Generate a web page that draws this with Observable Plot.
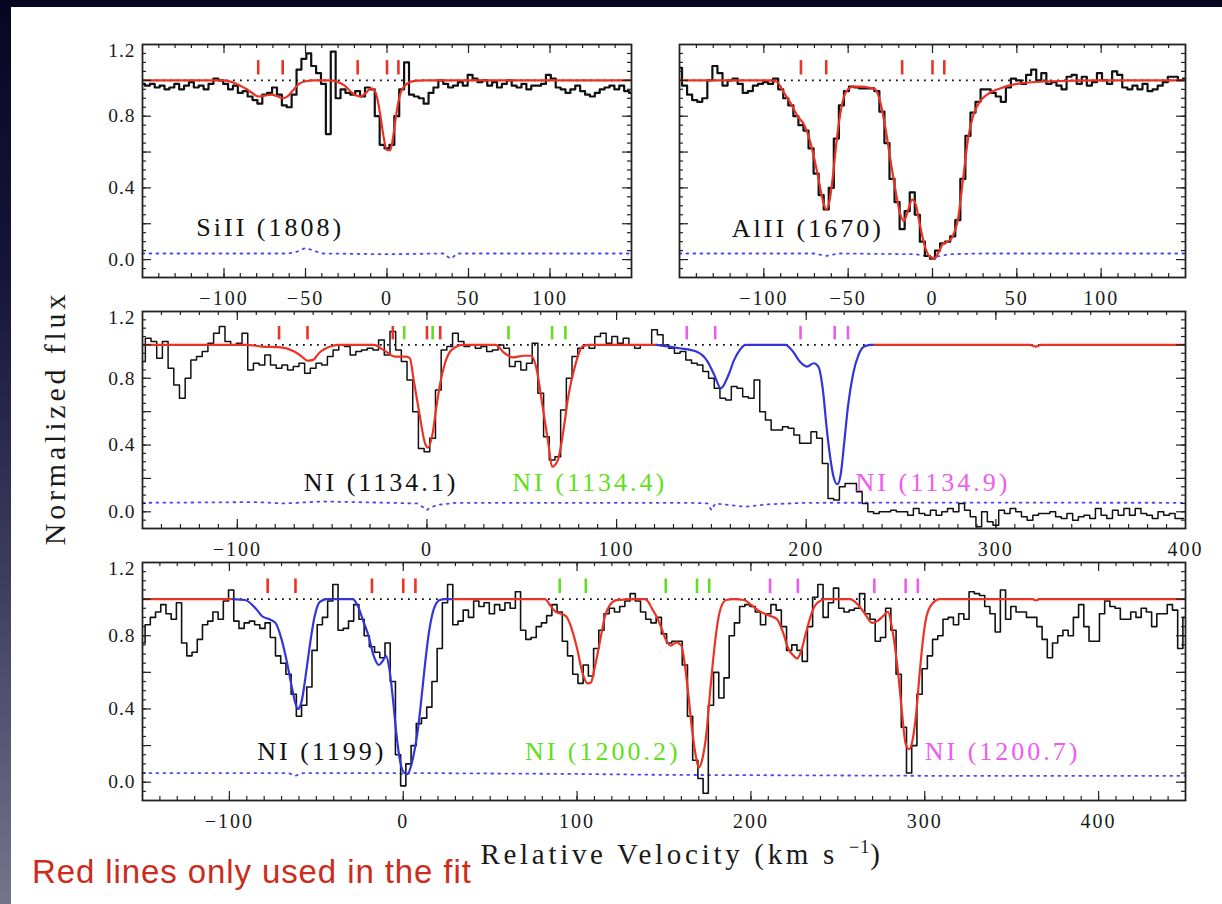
<!DOCTYPE html>
<html>
<head>
<meta charset="utf-8">
<title>Normalized flux versus relative velocity</title>
<script src="https://cdn.jsdelivr.net/npm/d3@7"></script>
<script src="https://cdn.jsdelivr.net/npm/@observablehq/plot@0.6"></script>
<style>
  html, body { margin: 0; padding: 0; background: #070722; }
  #page { position: relative; width: 1222px; height: 904px; overflow: hidden;
    background: linear-gradient(to bottom, #070722 0%, #15153b 30%, #3e3e60 65%, #74748c 100%); }
  #sheet { position: absolute; left: 11px; top: 7px; width: 1211px; height: 897px; background: #fff; }
  #page svg { position: absolute; overflow: visible; }
  #page svg g[font-size="20"] { letter-spacing: 2px; }
  #page svg g[font-size="19.5"] { letter-spacing: 1px; }
  #page svg g[font-size="26"] { letter-spacing: 3px; }
  .ytitle { position: absolute; left: 55px; top: 418px; transform: translate(-50%, -50%) rotate(-90deg);
    white-space: nowrap; font-family: "Liberation Serif"; font-size: 30px; letter-spacing: 3.8px; color: #1a1a1a; line-height: 1; }
  .xtitle { position: absolute; left: 682px; top: 840px; transform: translateX(-50%);
    white-space: nowrap; font-family: "Liberation Serif"; font-size: 29px; letter-spacing: 3.7px; color: #1a1a1a; line-height: 1; }
  .xtitle sup { font-size: 18px; position: relative; top: -11px; vertical-align: baseline; letter-spacing: 1px; }
  .note { position: absolute; left: 32px; top: 855px; font-family: "Liberation Sans"; font-size: 33px;
    letter-spacing: 0.9px; color: #cb2c1c; line-height: 1; white-space: nowrap; }
</style>
</head>
<body>
<div id="page">
  <div id="sheet"></div>
  <div class="ytitle">Normalized flux</div>
  <div class="xtitle">Relative Velocity (km s <sup>−1</sup>)</div>
  <div class="note">Red lines only used in the fit</div>
</div>
<script>
// ---- colours ----
const RED = "#ec3224", BLUE = "#3434dc", GREEN = "#62de20", MAGENTA = "#ee5cee";

// ---- velocity grids of the binned spectra (km/s) ----
const topGrid = d3.range(-150, 151, 3);
const middleGrid = d3.range(-150, 400, 3);
const bottomGrid = d3.range(-150, 451, 3);

// ---- Si II 1808 ----
const siFlux = [
  0.98,0.97,0.98,0.96,0.97,0.95,0.96,0.98,0.95,0.97,
  0.99,0.96,0.97,0.95,0.98,1.01,1.00,0.98,0.95,0.97,
  0.93,0.94,0.91,0.89,0.87,0.92,0.93,0.96,0.92,0.86,
  0.85,0.92,1.06,1.12,1.15,1.08,1.04,0.98,0.70,1.16,
  0.90,0.95,0.93,0.92,0.94,0.91,0.96,0.95,0.80,0.64,
  0.62,0.64,0.80,0.95,1.10,0.92,0.91,0.90,0.87,0.93,
  0.96,1.00,0.98,0.96,0.97,0.99,0.97,1.03,1.01,0.99,
  1.00,0.97,0.99,0.96,0.98,1.00,0.97,0.96,0.98,0.95,
  0.97,0.97,0.98,1.03,1.01,0.96,0.95,0.93,0.95,0.97,
  0.94,0.92,0.91,0.93,0.95,0.96,0.97,0.95,0.97,0.94,
  0.93
];
const siFitV = [-150,-100,-95,-90,-86,-82,-79,-75,-71,-67,-64,-61,-58,-54,-50,-45,-35,-30,-26,-22,-19,-16,-13,-10,-8,-6,-4,-2,0,2,4,6,8,10,13,17,22,150];
const siFitF = [1,1,0.99,0.97,0.95,0.925,0.91,0.915,0.92,0.91,0.90,0.91,0.94,0.98,0.995,1,1,0.99,0.97,0.935,0.915,0.91,0.93,0.955,0.95,0.90,0.80,0.68,0.61,0.61,0.70,0.83,0.92,0.96,0.985,0.997,1,1];
const siErrV = [-150,-60,-55,-50,-45,-40,0,35,38,39,40,43,150];
const siErrF = [0.034,0.034,0.045,0.065,0.05,0.034,0.03,0.034,0.01,0.005,0.01,0.034,0.034];
const siComps = [-79,-64,-18,0,7];

// ---- Al II 1670 ----
const alFlux = [
  1.07,0.97,0.92,0.89,0.88,0.90,1.00,1.08,1.04,0.97,
  1.00,1.01,0.98,0.93,0.94,0.97,0.98,0.99,0.98,1.01,
  0.95,0.90,0.86,0.80,0.75,0.72,0.62,0.48,0.36,0.28,
  0.40,0.675,0.86,0.94,0.965,0.96,0.955,0.955,0.955,0.94,
  0.825,0.65,0.45,0.32,0.17,0.27,0.375,0.25,0.10,0.02,
  0.005,0.05,0.09,0.10,0.13,0.22,0.45,0.69,0.82,0.88,
  0.95,0.95,0.93,0.91,0.88,0.96,1.01,1.00,0.98,1.03,
  1.06,1.00,1.04,0.98,0.99,0.97,0.95,1.02,1.03,0.98,
  1.02,0.97,0.99,1.04,1.00,0.98,1.05,1.03,0.96,0.95,
  0.97,0.95,0.98,0.94,0.95,0.97,0.99,1.02,1.02,1.00,
  1.01
];
const alFitV = [-150,-95,-92,-88,-84,-80,-76,-72,-68,-65,-63,-61,-59,-57,-54,-51,-47,-42,-38,-34,-31,-28,-25,-22,-19,-17,-15,-12,-10,-8,-5,-2,1,3,6,9,12,15,18,21,24,28,33,40,50,70,100,150];
const alFitF = [1,1,0.99,0.93,0.87,0.80,0.75,0.64,0.47,0.33,0.28,0.33,0.47,0.65,0.85,0.94,0.965,0.965,0.96,0.95,0.88,0.74,0.56,0.39,0.25,0.215,0.26,0.335,0.31,0.22,0.09,0.02,0.005,0.03,0.085,0.10,0.13,0.22,0.44,0.67,0.80,0.88,0.925,0.955,0.98,0.995,1,1];
const alErrV = [-150,-70,-63,-56,-10,0,10,30,150];
const alErrF = [0.034,0.034,0.02,0.034,0.03,0.012,0.03,0.034,0.034];
const alComps = [-78,-63,-18,0,7];

// ---- N I 1134 triplet ----
const n1134Flux = [
  0.90,1.04,1.02,0.92,1.02,0.86,0.76,0.68,0.80,0.91,
  0.93,0.96,1.01,1.07,1.11,1.02,1.00,1.01,1.07,0.85,
  0.89,0.88,0.94,0.88,0.86,0.88,0.85,0.87,0.89,0.83,
  0.86,0.89,0.88,0.93,0.97,1.00,0.99,0.94,0.96,0.97,
  0.98,0.97,1.03,0.94,1.08,0.97,0.90,0.79,0.60,0.38,
  0.36,0.44,0.73,0.97,0.99,1.07,1.02,0.99,1.00,0.98,
  0.99,0.96,0.97,1.00,0.98,0.87,0.90,0.85,0.89,1.01,
  0.71,0.45,0.31,0.33,0.61,0.80,0.93,0.98,1.00,0.98,
  1.05,1.07,1.01,1.05,1.01,1.04,1.00,0.98,1.00,1.00,
  1.09,1.06,1.00,0.98,0.95,0.96,0.91,0.89,0.88,0.84,
  0.80,0.74,0.68,0.67,0.75,0.74,0.69,0.68,0.79,0.60,
  0.55,0.49,0.49,0.51,0.50,0.46,0.41,0.41,0.48,0.44,
  0.29,0.08,0.07,0.15,0.17,0.17,0.12,0.05,0.00,-0.01,
  0.00,0.00,0.01,0.00,0.00,-0.02,0.02,-0.01,-0.02,0.01,
  -0.02,0.00,0.02,0.00,0.05,0.01,-0.03,-0.09,0.00,-0.06,
  -0.08,0.01,-0.01,0.02,0.00,-0.03,-0.05,-0.02,-0.01,-0.01,
  0.00,-0.03,-0.04,-0.01,-0.05,-0.03,-0.02,-0.04,0.02,-0.02,
  -0.04,0.01,-0.02,0.02,-0.02,0.02,-0.01,-0.02,-0.04,0.00,
  -0.02,-0.01,-0.04,-0.04
];
const n1134FitAV = [-150,-95,-87,-77,-70,-66,-63,-60,-57,-51,-47,-28,-23,-17,-11,-9,-7,-4,-1,0.5,3,5,7,9.5,13,19,36,41,45,51,55,57.5,61,64,66,69,72,74.5,78,82,85,121];
const n1134FitAF = [1,1,0.99,0.985,0.96,0.93,0.905,0.91,0.95,0.99,1,1,0.97,0.93,0.93,0.92,0.79,0.59,0.41,0.385,0.47,0.63,0.77,0.89,0.97,1,1,0.95,0.925,0.935,0.935,0.87,0.63,0.41,0.27,0.31,0.49,0.69,0.87,0.99,1,1];
const n1134FitBV = [121,133,142,148,151.5,155,159,162,165,168,189,193,196.6,200.4,204,206.4,209,210.7,212.6,214.5,216.4,218.2,220,222,224.8,227.6,230.5,234,236];
const n1134FitBF = [1,0.98,0.96,0.90,0.82,0.74,0.82,0.91,0.97,1,1,0.96,0.90,0.87,0.89,0.87,0.71,0.51,0.33,0.205,0.165,0.225,0.41,0.63,0.83,0.94,0.99,1,1];
const n1134FitCV = [236,318,321,324,400];
const n1134FitCF = [1,1,0.99,1,1];
const n1134ErrV = [-150,-90,-75,-55,-20,-5,-1,0,1,5,15,140,148,150,152,160,168,180,200,280,400];
const n1134ErrF = [0.054,0.058,0.05,0.062,0.054,0.05,0.02,0.01,0.02,0.04,0.054,0.054,0.05,0.01,0.05,0.04,0.03,0.045,0.054,0.055,0.054];
const n1134RedComps = [-78,-63,-18,0,7];
const n1134GreenComps = [-12,3,43,66,73];
const n1134MagentaComps = [137,152,197,215,222];

// ---- N I 1199/1200 triplet ----
const n1200Flux = [
  0.76,0.86,0.90,0.93,0.97,0.92,0.89,0.98,0.76,0.69,
  0.71,0.78,0.86,0.88,0.93,0.89,0.99,1.05,0.88,0.84,
  0.87,0.88,0.86,0.84,0.87,0.79,0.69,0.65,0.59,0.48,
  0.36,0.42,0.52,0.72,0.86,0.90,0.99,1.08,0.83,0.84,
  0.88,0.97,0.89,0.80,0.74,0.71,0.68,0.76,0.55,0.15,
  -0.02,0.10,0.20,0.32,0.35,0.41,0.55,0.73,0.98,1.08,
  0.86,0.88,0.94,0.90,0.99,0.96,0.98,0.92,0.97,0.94,
  0.98,0.95,1.04,0.83,0.78,0.79,0.85,0.87,0.91,0.97,
  0.93,0.77,0.69,0.59,0.54,0.64,0.58,0.73,0.83,0.92,
  0.95,0.93,0.96,0.99,1.03,0.99,0.93,0.89,0.87,0.90,
  0.81,0.76,0.77,0.77,0.64,0.36,0.12,0.02,-0.06,0.42,
  0.60,0.46,0.57,0.80,0.87,0.96,0.97,0.96,0.93,0.86,
  0.92,0.97,0.94,0.85,0.72,0.75,0.72,0.66,0.85,1.01,
  1.08,0.90,0.98,1.06,0.95,0.93,0.94,0.95,1.03,0.92,
  0.89,0.77,0.79,0.95,0.83,0.59,0.30,0.05,0.20,0.48,
  0.62,0.69,0.78,0.80,0.89,0.90,0.86,0.92,0.89,1.04,
  1.03,1.02,0.96,0.92,0.82,1.05,0.89,0.96,0.93,0.93,
  0.90,0.90,0.85,0.78,0.68,0.76,0.80,0.83,0.80,0.90,
  0.97,0.85,0.77,0.77,0.92,0.99,0.96,0.95,0.89,0.89,
  0.93,0.90,0.95,0.93,0.85,0.92,0.92,0.97,0.94,0.73,
  0.90
];
const n1200FitAV = [-150,-98];
const n1200FitAF = [1,1];
const n1200FitBV = [-98,-91,-85,-81,-77,-73.5,-70,-67,-64,-62,-60.5,-58.5,-56,-54,-51,-48,-44,-29,-26,-23,-20,-17,-14,-12,-10,-8,-6,-4,-2,0.4,2.5,4.5,6.6,8.6,10.7,12.7,14.8,16.8,19,21,24,29];
const n1200FitBF = [1,0.995,0.95,0.905,0.89,0.87,0.78,0.66,0.515,0.43,0.40,0.44,0.59,0.73,0.905,0.985,1,1,0.96,0.88,0.80,0.69,0.64,0.66,0.69,0.62,0.46,0.27,0.124,0.053,0.044,0.09,0.18,0.30,0.48,0.66,0.82,0.92,0.977,0.995,1,1];
const n1200FitCV = [29,81.5,84.6,87.7,90.8,93.8,97,100,103,106,108,110,113,116,119,122.6,135,139,141,143,146,149,151,154,157,160,162,164,166,168,170,172,174.4,176.4,178.5,180.5,182.6,185.7,190,196,200,204,208,212,215,218.4,221.5,224.6,226.6,228.7,231.8,234.8,238,243,257,261.5,265.6,269.7,272.7,275.8,278.9,281,283,285,287,289,291,293,295,297,299,301,304.5,308.6,362,364,366,450];
const n1200FitCF = [1,1,0.965,0.93,0.92,0.905,0.835,0.73,0.60,0.54,0.545,0.62,0.76,0.905,0.97,0.995,1,1,0.985,0.95,0.90,0.83,0.78,0.746,0.764,0.746,0.64,0.48,0.30,0.16,0.08,0.124,0.266,0.48,0.69,0.85,0.95,0.995,1,0.995,0.97,0.94,0.92,0.905,0.89,0.82,0.73,0.69,0.675,0.71,0.82,0.92,0.977,1,1,0.97,0.92,0.87,0.88,0.905,0.93,0.85,0.73,0.57,0.37,0.21,0.18,0.23,0.37,0.586,0.78,0.905,0.977,1,1,0.993,1,1];
const n1200ErrV = [-150,-66,-62,-58,-5,0,5,100,150,300,450];
const n1200ErrF = [0.05,0.05,0.035,0.05,0.05,0.045,0.05,0.045,0.04,0.035,0.035];
const n1200RedComps = [-78,-62,-18,0,7];
const n1200GreenComps = [90,105,151,169,176];
const n1200MagentaComps = [211,227,271,289,296];

// ---- axis tick labels ----
const narrowTickLabels = [-100,-50,0,50,100];
const wideTickLabels = [-100,0,100,200,300,400];
const fluxTickLabels = [0, 0.4, 0.8, 1.2];
const Y_DOMAIN = [-0.1, 1.2];
const SERIF = "Liberation Serif";

const rows = (v, f) => v.map((x, i) => ({v: x, f: f[i]})).filter(d => d.f !== undefined);
const fmtVel = d => d < 0 ? "\u2212" + (-d) : String(d);

function drawPanel(cfg) {
  const [L, T, R, B] = cfg.box;
  const ml = 70, mr = 24, mt = 12, mb = 40;
  const iw = R - L, ih = B - T;
  const [x0, x1] = cfg.xDomain;
  const [y0, y1] = Y_DOMAIN;
  const kx = (x1 - x0) / iw, ky = (y1 - y0) / ih;   // data units per pixel
  const tick = {stroke: "#222", strokeWidth: 1.2};
  const xMinor = d3.range(x0 + 10, x1, 10);
  const yMinor = d3.range(1, 26).map(i => y0 + i * 0.05);
  const yMajor = [0, 0.2, 0.4, 0.6, 0.8, 1.0];

  const marks = [
    // continuum and error spectrum
    Plot.ruleY([1], {stroke: "#111", strokeWidth: 1.8, strokeDasharray: "1.8,5.2"}),
    Plot.line(rows(cfg.error[0], cfg.error[1]), {x: "v", y: "f", stroke: "#4848f4", strokeWidth: 1.8, strokeDasharray: "1.8,5.2"}),
    // observed spectrum
    Plot.line(rows(cfg.grid, cfg.flux), {x: "v", y: "f", curve: "step", stroke: "#111", strokeWidth: cfg.specWidth, clip: true}),
    // Voigt-profile fits
    ...cfg.fits.map(([v, f, color]) => Plot.line(rows(v, f), {x: "v", y: "f", curve: "monotone-x", stroke: color, strokeWidth: 2.2, clip: true})),
    // velocity components
    ...cfg.comps.map(([v, color]) => Plot.ruleX(v, {y1: 1.03, y2: 1.11, stroke: color, strokeWidth: 2.6})),
    // inward ticks on all four sides
    Plot.ruleX(xMinor, {y1: y0, y2: y0 + 4 * ky, ...tick}),
    Plot.ruleX(xMinor, {y1: y1 - 4 * ky, y2: y1, ...tick}),
    Plot.ruleX(cfg.xMajor, {y1: y0, y2: y0 + 9 * ky, ...tick}),
    Plot.ruleX(cfg.xMajor, {y1: y1 - 9 * ky, y2: y1, ...tick}),
    Plot.ruleY(yMinor, {x1: x0, x2: x0 + 4 * kx, ...tick}),
    Plot.ruleY(yMinor, {x1: x1 - 4 * kx, x2: x1, ...tick}),
    Plot.ruleY(yMajor, {x1: x0, x2: x0 + 9 * kx, ...tick}),
    Plot.ruleY(yMajor, {x1: x1 - 9 * kx, x2: x1, ...tick}),
    Plot.frame({stroke: "#222", strokeWidth: 1.8}),
    // velocity tick labels
    Plot.text(cfg.xLabels, {x: d => d, y: y0, dy: 21, text: fmtVel, fontSize: 20, fontFamily: SERIF, fill: "#1a1a1a"}),
    // transition labels
    ...cfg.labels.map(l => Plot.text([l], {x: "x", y: "y", text: "text", fill: l.color, textAnchor: "start", fontSize: 26, fontFamily: SERIF}))
  ];
  if (cfg.yLabels) {
    marks.push(
      Plot.text(fluxTickLabels.filter(d => d < 1.2), {x: x0, y: d => d, dx: -7, textAnchor: "end", text: d => d.toFixed(1), fontSize: 19.5, fontFamily: SERIF, fill: "#1a1a1a"}),
      Plot.text(fluxTickLabels.filter(d => d >= 1.2), {x: x0, y: d => d, dx: -7, dy: 6, textAnchor: "end", text: d => d.toFixed(1), fontSize: 19.5, fontFamily: SERIF, fill: "#1a1a1a"})
    );
  }

  const svg = Plot.plot({
    width: iw + ml + mr, height: ih + mt + mb,
    marginLeft: ml, marginRight: mr, marginTop: mt, marginBottom: mb,
    x: {domain: cfg.xDomain, axis: null},
    y: {domain: Y_DOMAIN, axis: null},
    style: {background: "transparent", overflow: "visible"},
    marks
  });
  svg.style.left = (L - ml) + "px";
  svg.style.top = (T - mt) + "px";
  svg.style.maxWidth = "none";
  document.getElementById("page").appendChild(svg);
}

// Si II 1808
drawPanel({
  box: [142, 44, 631, 277], xDomain: [-150, 150], xMajor: [-100, -50, 0, 50, 100],
  xLabels: narrowTickLabels, yLabels: true, grid: topGrid, flux: siFlux, specWidth: 2.2,
  fits: [[siFitV, siFitF, RED]], error: [siErrV, siErrF], comps: [[siComps, RED]],
  labels: [{x: -117, y: 0.18, text: "SiII (1808)", color: "#111"}]
});

// Al II 1670
drawPanel({
  box: [679, 44, 1185, 277], xDomain: [-150, 150], xMajor: [-100, -50, 0, 50, 100],
  xLabels: narrowTickLabels, yLabels: false, grid: topGrid, flux: alFlux, specWidth: 2.2,
  fits: [[alFitV, alFitF, RED]], error: [alErrV, alErrF], comps: [[alComps, RED]],
  labels: [{x: -119, y: 0.17, text: "AlII (1670)", color: "#111"}]
});

// N I 1134 triplet
drawPanel({
  box: [142, 311, 1185, 528], xDomain: [-150, 400], xMajor: [-100, 0, 100, 200, 300],
  xLabels: wideTickLabels, yLabels: true, grid: middleGrid, flux: n1134Flux, specWidth: 1.5,
  fits: [[n1134FitAV, n1134FitAF, RED], [n1134FitBV, n1134FitBF, BLUE], [n1134FitCV, n1134FitCF, RED]],
  error: [n1134ErrV, n1134ErrF],
  comps: [[n1134RedComps, RED], [n1134GreenComps, GREEN], [n1134MagentaComps, MAGENTA]],
  labels: [
    {x: -65, y: 0.175, text: "NI (1134.1)", color: "#111"},
    {x: 45, y: 0.175, text: "NI (1134.4)", color: GREEN},
    {x: 226, y: 0.175, text: "NI (1134.9)", color: MAGENTA}
  ]
});

// N I 1199/1200 triplet
drawPanel({
  box: [142, 562, 1185, 800], xDomain: [-150, 450], xMajor: [-100, 0, 100, 200, 300, 400],
  xLabels: wideTickLabels, yLabels: true, grid: bottomGrid, flux: n1200Flux, specWidth: 1.6,
  fits: [[n1200FitAV, n1200FitAF, RED], [n1200FitBV, n1200FitBF, BLUE], [n1200FitCV, n1200FitCF, RED]],
  error: [n1200ErrV, n1200ErrF],
  comps: [[n1200RedComps, RED], [n1200GreenComps, GREEN], [n1200MagentaComps, MAGENTA]],
  labels: [
    {x: -84, y: 0.165, text: "NI (1199)", color: "#111"},
    {x: 70, y: 0.165, text: "NI (1200.2)", color: GREEN},
    {x: 300, y: 0.165, text: "NI (1200.7)", color: MAGENTA}
  ]
});
</script>
</body>
</html>
